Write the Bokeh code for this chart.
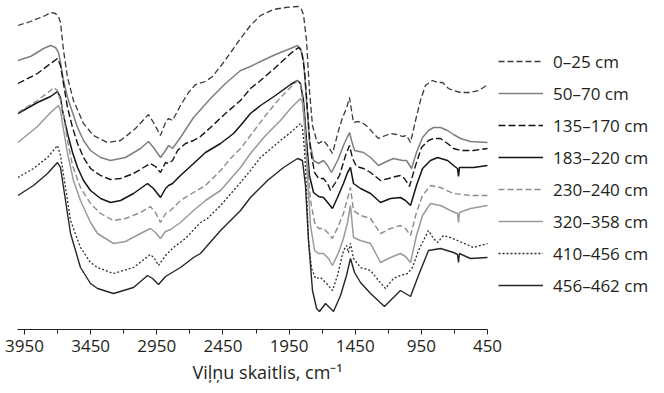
from bokeh.plotting import figure
from bokeh.models import Range1d, FixedTicker, Legend, LegendItem, Title
from bokeh.embed import file_html
from bokeh.resources import INLINE

# Wavenumbers (cm^-1) and offset signal values
# (signal axis runs downward: larger value = lower on the chart)
wn_0_25 = [4000,3905,3791,3753,3716,3693,3678,3655,3625,3580,3504,3428,3323,3224,3111,3013,2975,2922,2884,2861,2831,2771,2710,2657,2582,2529,2446,2370,2317,2242,2166,2068,1977,1879,1856,1841,1818,1796,1773,1742,1727,1690,1659,1622,1576,1546,1516,1493,1478,1463,1425,1387,1350,1312,1274,1221,1183,1138,1092,1062,1032,994,957,919,866,828,790,745,707,654,579,518,480,450]
s_0_25 = [25,21,15,12,13,16,22,50,77,100,123,135,142,140,128,114,122,135,122,118,120,105,92,84,81,76,62,48,38,25,15,9,7,6,9,14,40,90,125,140,143,140,145,153,130,117,108,97,110,122,121,123,127,133,138,135,133,134,136,135,142,120,100,85,80,82,82,88,90,92,92,90,87,84]

wn_50_70 = [4000,3905,3806,3753,3716,3693,3678,3655,3625,3587,3549,3504,3451,3375,3300,3187,3073,3013,2975,2922,2884,2861,2831,2771,2672,2544,2431,2317,2242,2166,2053,1939,1886,1864,1841,1818,1796,1765,1727,1690,1659,1629,1576,1539,1493,1478,1455,1387,1334,1274,1213,1161,1092,1062,1024,987,941,896,858,805,752,707,654,579,450]
s_50_70 = [60,56,48,45,47,52,62,80,97,112,127,140,150,157,160,157,148,141,147,157,150,145,148,137,117,98,83,70,66,61,54,48,45,48,60,100,140,160,163,160,165,172,158,145,132,140,150,152,157,165,161,158,160,160,168,152,137,130,127,127,130,134,138,141,142]

wn_135_170 = [4000,3852,3753,3701,3678,3663,3625,3587,3549,3504,3451,3375,3300,3224,3126,3050,2998,2960,2922,2884,2861,2831,2793,2733,2672,2620,2544,2431,2317,2242,2166,2053,1939,1879,1856,1833,1811,1788,1757,1727,1690,1659,1637,1599,1569,1523,1493,1470,1440,1387,1334,1259,1198,1145,1108,1077,1040,994,949,896,858,805,752,707,654,556,450]
s_135_170 = [83,73,63,58,65,77,107,127,143,157,168,175,179,178,173,167,163,166,172,162,163,160,150,143,140,136,127,113,100,88,80,67,53,47,50,70,110,150,172,178,178,183,190,182,175,155,145,158,166,168,172,180,178,176,175,178,186,165,147,140,138,138,143,148,150,150,148]

wn_183_220 = [4000,3852,3753,3701,3678,3663,3625,3587,3549,3504,3451,3375,3300,3224,3126,3020,2975,2922,2884,2861,2831,2771,2672,2582,2468,2370,2317,2242,2166,2053,1939,1886,1864,1841,1818,1796,1765,1727,1690,1652,1622,1584,1539,1508,1486,1463,1410,1334,1259,1183,1108,1070,1032,987,941,881,828,752,707,677,669,662,556,450]
s_183_220 = [113,102,96,91,97,110,133,152,167,180,190,198,202,200,193,183,188,197,188,185,183,175,163,152,143,133,125,113,105,95,84,80,83,100,140,175,192,196,197,203,208,197,183,172,167,183,188,193,202,198,197,200,205,185,168,160,157,160,165,168,176,167,167,165]

wn_230_240 = [4000,3852,3753,3731,3701,3678,3655,3625,3587,3527,3451,3375,3277,3187,3073,2998,2960,2922,2884,2846,2771,2672,2582,2468,2393,2317,2242,2128,2015,1886,1864,1841,1818,1788,1757,1727,1690,1652,1622,1576,1539,1508,1486,1463,1410,1334,1259,1183,1108,1070,1032,987,941,881,805,707,579,450]
s_230_240 = [112,100,90,87,90,100,115,140,165,187,203,213,220,218,212,206,212,222,213,210,200,192,185,170,158,148,135,115,97,80,84,105,150,200,222,228,228,233,238,225,213,198,187,210,215,218,233,228,225,228,235,212,195,185,187,193,195,195]

wn_320_358 = [4000,3852,3753,3693,3678,3663,3625,3580,3527,3451,3398,3277,3187,3073,2998,2960,2922,2884,2846,2771,2672,2582,2468,2370,2317,2242,2128,2015,1939,1864,1849,1833,1811,1788,1757,1727,1690,1652,1622,1576,1539,1508,1486,1463,1410,1334,1259,1183,1108,1070,1032,987,941,881,805,730,677,669,662,579,450]
s_320_358 = [142,126,112,105,110,123,153,180,200,222,233,243,241,233,228,232,238,231,229,222,210,200,190,175,167,153,135,120,108,98,102,125,175,225,250,253,253,258,265,252,238,222,205,237,240,243,262,257,253,256,262,235,215,203,205,210,213,222,212,208,205]

wn_410_456 = [4000,3882,3776,3701,3678,3640,3602,3527,3451,3398,3277,3126,2998,2967,2937,2884,2824,2733,2620,2567,2468,2317,2242,2166,2015,1939,1864,1849,1833,1818,1803,1780,1750,1712,1667,1622,1584,1539,1516,1501,1486,1463,1410,1334,1274,1221,1161,1108,1055,1017,972,896,858,828,783,730,677,556,450]
s_410_456 = [177,168,157,145,155,187,220,247,262,267,273,267,254,258,265,255,247,238,222,218,205,182,170,157,140,132,123,127,150,190,240,268,278,277,283,290,275,250,245,252,243,258,267,270,280,288,278,275,273,267,250,230,238,242,235,237,240,247,243]

wn_456_462 = [4000,3882,3776,3701,3678,3640,3602,3527,3451,3398,3277,3126,3020,2982,2937,2884,2771,2672,2620,2468,2370,2317,2242,2113,1992,1886,1849,1826,1803,1773,1742,1720,1675,1614,1561,1516,1486,1455,1410,1334,1229,1161,1108,1070,1032,972,896,805,707,677,669,662,579,450]
s_456_462 = [195,185,173,162,167,200,233,267,283,288,293,287,275,278,284,276,267,257,253,230,217,210,197,180,167,158,160,185,240,290,308,311,303,311,295,275,258,272,282,293,306,297,290,293,296,275,250,248,252,254,262,253,258,257]

labels = ["0\u201325 cm", "50\u201370 cm", "135\u2013170 cm", "183\u2013220 cm",
          "230\u2013240 cm", "320\u2013358 cm", "410\u2013456 cm", "456\u2013462 cm"]
major_ticks = [3950, 3450, 2950, 2450, 1950, 1450, 950, 450]
minor_ticks = [3700, 3200, 2700, 2200, 1700, 1200, 700]
axis_bounds = (450, 4003)
x_title = "Viļņu skaitlis, cm\u207b\u00b9"

series = [(wn_0_25, s_0_25), (wn_50_70, s_50_70), (wn_135_170, s_135_170),
          (wn_183_220, s_183_220), (wn_230_240, s_230_240), (wn_320_358, s_320_358),
          (wn_410_456, s_410_456), (wn_456_462, s_456_462)]
styles = [
    dict(line_color="#3a3a3a", line_width=1.3, line_dash="6 3"),
    dict(line_color="#7f7f7f", line_width=1.5, line_dash="solid"),
    dict(line_color="#141414", line_width=1.4, line_dash="7 3"),
    dict(line_color="#141414", line_width=1.5, line_dash="solid"),
    dict(line_color="#8c8c8c", line_width=1.4, line_dash="6 3"),
    dict(line_color="#9a9a9a", line_width=1.5, line_dash="solid"),
    dict(line_color="#2e2e2e", line_width=1.3, line_dash="2 2"),
    dict(line_color="#262626", line_width=1.4, line_dash="solid"),
]

FONT = "Open Sans"
TXT = "#231f20"

# frame spans the full width; the x axis is bounded to 4003..450 so the
# legend can sit to the right of the spectra inside the same frame
px_per_unit = 470 / (axis_bounds[1] - axis_bounds[0])
x_end = axis_bounds[0] - 177 / px_per_unit

p = figure(width=664, height=393, x_range=Range1d(axis_bounds[1], x_end), y_range=Range1d(329, 0),
           output_backend="svg", toolbar_location=None, y_axis_location=None,
           min_border_left=17, min_border_right=0, min_border_top=0, min_border_bottom=64)
p.xgrid.visible = False
p.ygrid.visible = False
p.outline_line_color = None
p.background_fill_color = "white"
p.border_fill_color = "white"

items = []
for (wx, sy), st, lab in zip(series, styles, labels):
    assert len(wx) == len(sy), lab
    r = p.line(wx, sy, **st)
    items.append(LegendItem(label=lab, renderers=[r]))

ax = p.xaxis[0]
ax.bounds = axis_bounds
ax.ticker = FixedTicker(ticks=major_ticks, minor_ticks=minor_ticks)
ax.axis_line_color = TXT
ax.major_tick_line_color = TXT
ax.minor_tick_line_color = TXT
ax.major_tick_out = 5
ax.major_tick_in = 0
ax.minor_tick_out = 4
ax.minor_tick_in = 0
ax.major_label_text_font = FONT
ax.major_label_text_font_size = "17px"
ax.major_label_text_color = TXT
ax.major_label_standoff = 5

# axis title centred under the bounded axis (not under the whole frame)
title = Title(text=x_title, align="left", offset=175, standoff=7,
              text_font=FONT, text_font_size="18px", text_font_style="normal",
              text_color=TXT)
p.add_layout(title, "below")

legend = Legend(items=items, location=(481, 32), orientation="vertical",
                glyph_width=45, glyph_height=24, label_height=24, spacing=8,
                label_standoff=10, padding=0, margin=0,
                label_text_font=FONT, label_text_font_size="17px",
                label_text_color=TXT, border_line_alpha=0, background_fill_alpha=0)
p.add_layout(legend, "center")

open("out.html", "w").write(file_html(p, INLINE))
